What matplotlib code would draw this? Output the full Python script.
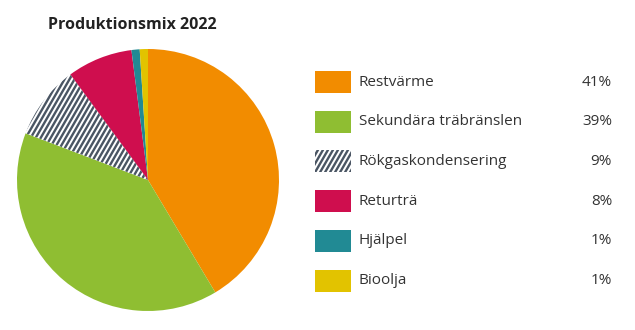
import numpy as np
import matplotlib.pyplot as plt
from matplotlib.patches import Rectangle
from matplotlib.collections import LineCollection
from matplotlib.transforms import IdentityTransform

plt.rcParams['font.family'] = ['Open Sans', 'DejaVu Sans']

labels = ["Restvärme", "Sekundära träbränslen", "Rökgaskondensering", "Returträ", "Hjälpel", "Bioolja"]
shares = [41, 39, 9, 8, 1, 1]
pct_labels = ["41%", "39%", "9%", "8%", "1%", "1%"]
colors = ["#f28c00", "#8fbe32", "#ffffff", "#cf0e4e", "#218a94", "#e2c300"]
striped = [False, False, True, False, False, False]
hatch_color = "#4a5563"
title = "Produktionsmix 2022"

W, H = 635, 330
fig = plt.figure(figsize=(W / 100, H / 100), dpi=100)


def stripes(ax, patch, x0, x1, y0, y1, step=5.0, angle=60):
    # diagonal stripes in display pixels, clipped to the patch
    run = (y1 - y0) / np.tan(np.deg2rad(angle))
    segs = [[(x, y0), (x + run, y1)] for x in np.arange(x0 - run, x1, step)]
    lc = LineCollection(segs, colors=hatch_color, linewidths=1.7,
                        transform=IdentityTransform())
    ax.add_collection(lc, autolim=False)
    lc.set_clip_path(patch)


# pie: centre ~ (148, 180) px, radius ~131 px
cx, cy, r = 148, 180, 131
ax = fig.add_axes([(cx - r) / W, (H - cy - r) / H, 2 * r / W, 2 * r / H])
wedges, _ = ax.pie(shares, colors=colors, startangle=90, counterclock=False,
                   radius=1, wedgeprops=dict(linewidth=0))
ax.set_xlim(-1, 1)
ax.set_ylim(-1, 1)
ax.axis("off")
for w, s in zip(wedges, striped):
    if s:
        stripes(ax, w, cx - r, cx + r, H - cy - r, H - cy + r)

# overlay in pixel coords for title and legend
ov = fig.add_axes([0, 0, 1, 1])
ov.set_xlim(0, W)
ov.set_ylim(H, 0)
ov.axis("off")

ov.text(48, 25, title, fontsize=11.5, fontweight="bold", color="#222222",
        ha="left", va="center")

y0, dy = 82, 39.7
for i, (lab, pct, c, s) in enumerate(zip(labels, pct_labels, colors, striped)):
    y = y0 + i * dy
    rect = Rectangle((315, y - 11), 36, 22, facecolor=c, linewidth=0)
    ov.add_patch(rect)
    if s:
        stripes(ov, rect, 300, 360, H - y - 15, H - y + 15)
    ov.text(359, y, lab, fontsize=11, color="#333333", ha="left", va="center")
    ov.text(612, y, pct, fontsize=11, color="#333333", ha="right", va="center")

fig.savefig("out.png", dpi=100)
